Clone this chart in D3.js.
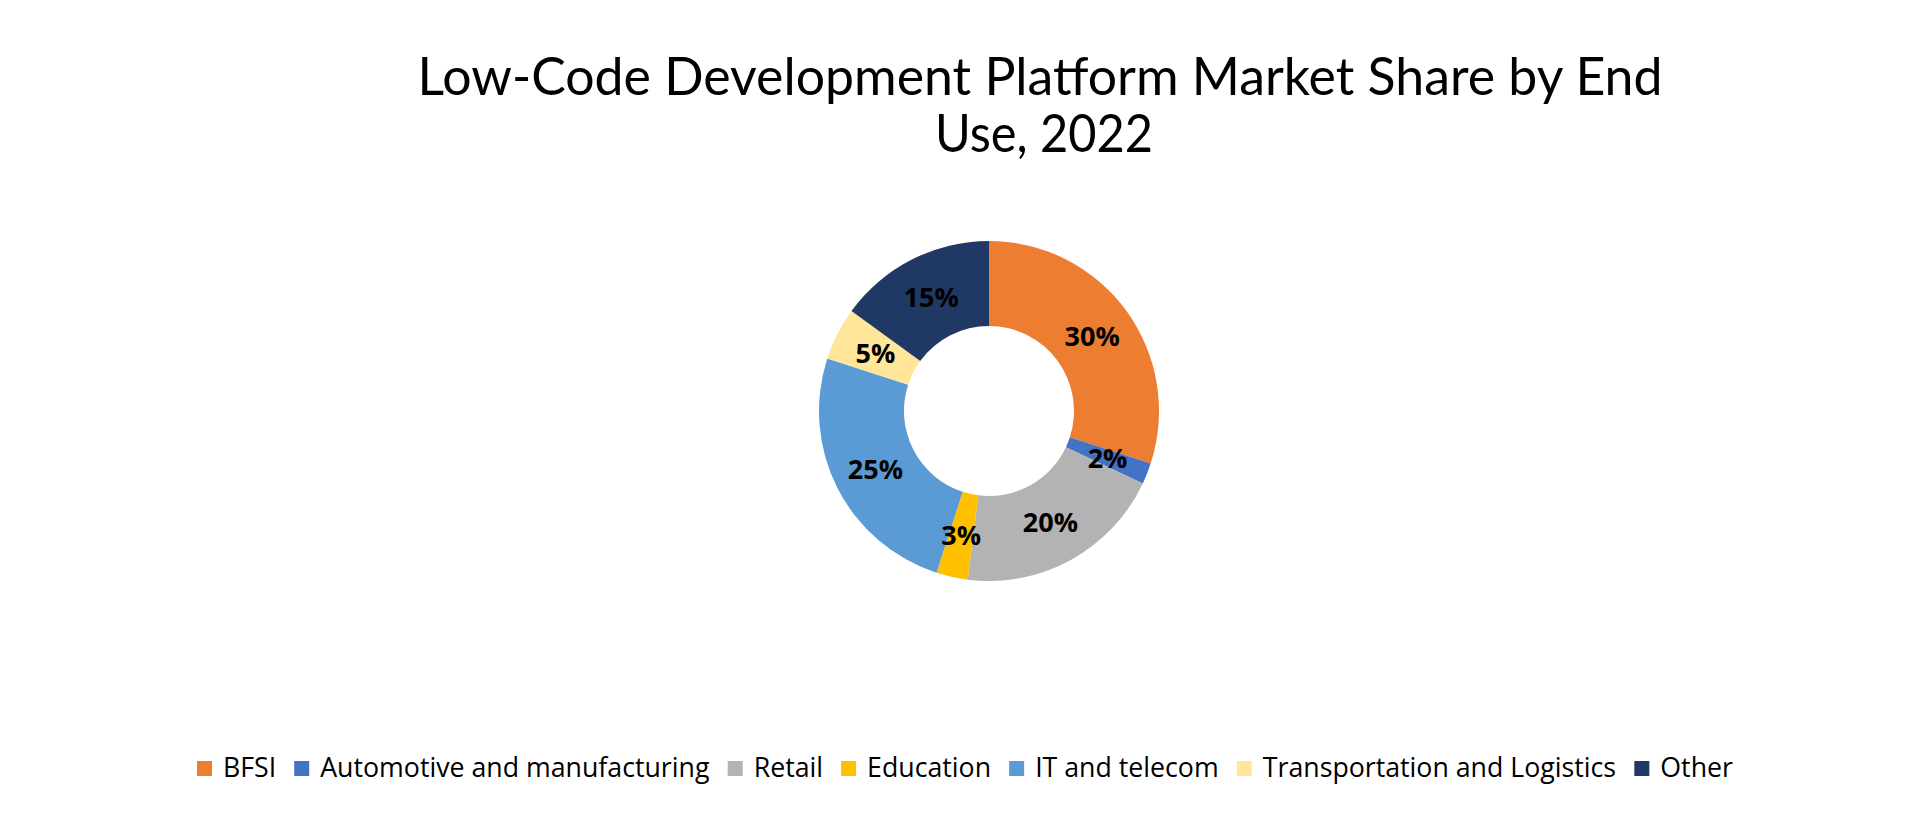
<!DOCTYPE html>
<html>
<head>
<meta charset="utf-8">
<script src="https://cdn.jsdelivr.net/npm/d3@7"></script>
<style>
  html, body { margin: 0; padding: 0; background: #ffffff; }
  svg { display: block; }
</style>
</head>
<body>
<script>
(function () {

    // Data
    var categories = ["BFSI", "Automotive and manufacturing", "Retail", "Education",
        "IT and telecom", "Transportation and Logistics", "Other"];
    var shares = [30, 2, 20, 3, 25, 5, 15];
    var sliceColors = ["#ED7D31", "#4472C4", "#B3B3B3", "#FFC000", "#5B9BD5", "#FFE699", "#203864"];
    var titleLines = ["Low-Code Development Platform Market Share by End", "Use, 2022"];

    var width = 1920, height = 818;

    // Donut geometry
    var cx = 989, cy = 411,
        outerR = 170, innerR = 85;

    var svg = d3.select("body")
        .append("svg")
        .attr("width", width)
        .attr("height", height);

    // Title
    var title = svg.append("g").attr("class", "title");
    title.append("text")
        .attr("x", 1040)
        .attr("y", 95)
        .attr("text-anchor", "middle")
        .attr("textLength", 1245)
        .attr("lengthAdjust", "spacingAndGlyphs")
        .style("font-family", "Lato, 'Open Sans', sans-serif")
        .style("font-size", "52px")
        .style("fill", "#000")
        .text(titleLines[0]);
    title.append("text")
        .attr("x", 1044)
        .attr("y", 152)
        .attr("text-anchor", "middle")
        .attr("textLength", 218)
        .attr("lengthAdjust", "spacingAndGlyphs")
        .style("font-family", "Lato, 'Open Sans', sans-serif")
        .style("font-size", "52px")
        .style("fill", "#000")
        .text(titleLines[1]);

    // Pie layout, starting at 12 o'clock and going clockwise
    var pie = d3.pie().sort(null).value(function (d) { return d; });
    var arcs = pie(shares);

    var arc = d3.arc().innerRadius(innerR).outerRadius(outerR);
    var labelArc = d3.arc().innerRadius((innerR + outerR) / 2).outerRadius((innerR + outerR) / 2);

    var donut = svg.append("g")
        .attr("transform", "translate(" + cx + "," + cy + ")");

    donut.selectAll("path")
        .data(arcs)
        .enter().append("path")
        .attr("d", arc)
        .attr("fill", function (d, i) { return sliceColors[i]; });

    donut.selectAll(".label")
        .data(arcs)
        .enter().append("text")
        .attr("class", "label")
        .attr("transform", function (d) { return "translate(" + labelArc.centroid(d) + ")"; })
        .attr("text-anchor", "middle")
        .attr("dy", "0.36em")
        .style("font-family", "'Open Sans', 'Liberation Sans', sans-serif")
        .style("font-weight", "bold")
        .style("font-size", "27px")
        .style("fill", "#000")
        .text(function (d) { return d.data + "%"; });

    // Legend
    var legendLeft = 197, legendRight = 1733, legendY = 777;
    var sq = 15, sqGap = 11, itemGap = 18;

    var legend = svg.append("g").attr("class", "legend");
    var items = legend.selectAll(".legend-item")
        .data(categories)
        .enter().append("g")
        .attr("class", "legend-item");

    items.append("rect")
        .attr("width", sq)
        .attr("height", sq)
        .attr("y", legendY - 16)
        .attr("fill", function (d, i) { return sliceColors[i]; });

    var texts = items.append("text")
        .attr("y", legendY)
        .style("font-family", "'Open Sans', 'Liberation Sans', sans-serif")
        .style("font-size", "24px")
        .style("fill", "#000")
        .text(function (d) { return d; });

    // fit legend text to the available width
    var widths = [];
    texts.each(function () { widths.push(this.getComputedTextLength()); });
    var fixed = categories.length * (sq + sqGap) + (categories.length - 1) * itemGap;
    var k = (legendRight - legendLeft - fixed) / d3.sum(widths);
    texts.style("font-size", (24 * k) + "px");

    var xPos = legendLeft;
    items.each(function (d, i) {
        var g = d3.select(this);
        g.select("rect").attr("x", xPos);
        g.select("text").attr("x", xPos + sq + sqGap);
        xPos += sq + sqGap + widths[i] * k + itemGap;
    });

})();
</script>
</body>
</html>
